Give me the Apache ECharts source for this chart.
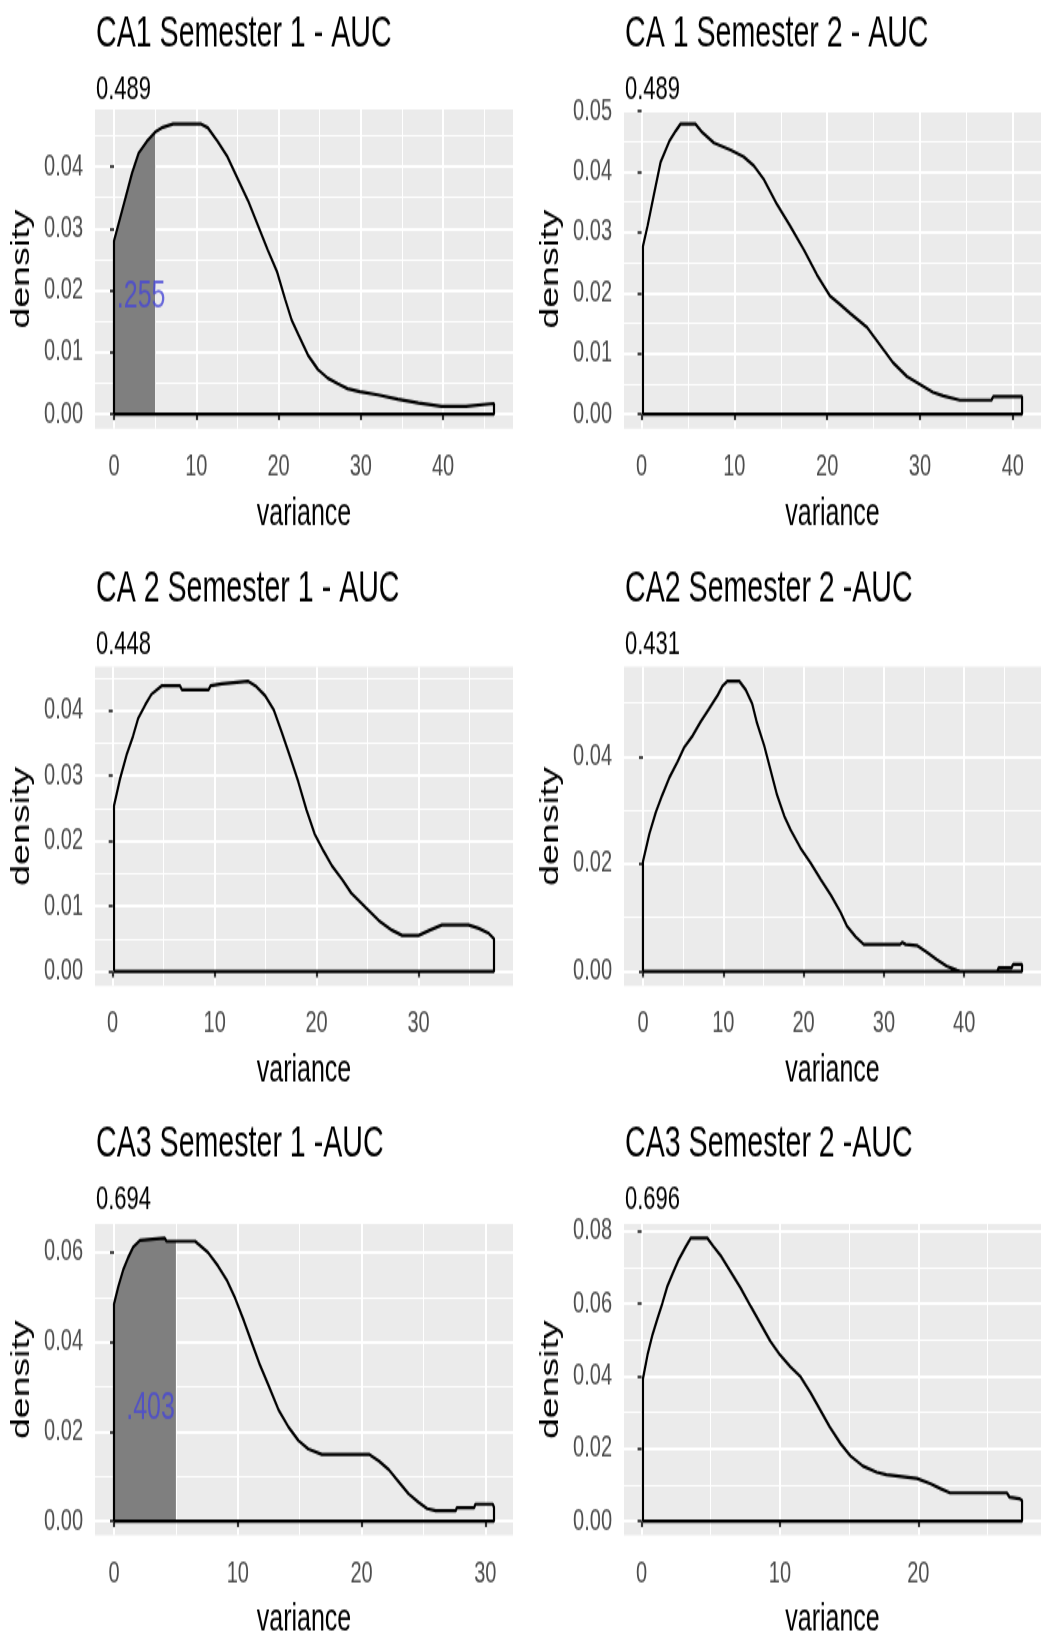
<!DOCTYPE html>
<html>
<head>
<meta charset="utf-8">
<script src="https://cdn.jsdelivr.net/npm/echarts@6/dist/echarts.min.js"></script>
<style>
html,body{margin:0;padding:0;background:#ffffff;overflow:hidden;}
#wrap{width:1041px;height:1641px;overflow:hidden;}
/* the reference picture is vertically stretched (non-square pixels); reproduce that aspect */
#chart{width:1041px;height:1094px;transform:scaleY(1.5);transform-origin:0 0;}
</style>
</head>
<body>
<div id="wrap"><div id="chart"></div></div>
<script>
// ---------- data ----------
const titles = ['CA1 Semester 1 - AUC', 'CA 1 Semester 2 - AUC', 'CA 2 Semester 1 - AUC', 'CA2 Semester 2 -AUC', 'CA3 Semester 1 -AUC', 'CA3 Semester 2 -AUC'];
const subtitles = ['0.489', '0.489', '0.448', '0.431', '0.694', '0.696'];
const xAxisTitle = 'variance';
const yAxisTitle = 'density';

const ca1s1X = [0, 1.3, 2.2, 3.0, 4.0, 5.0, 5.8, 7.2, 10.6, 11.4, 12.6, 13.8, 15.1, 16.3, 17.5, 18.7, 19.8, 20.8, 21.6, 22.4, 23.6, 24.8, 26.0, 27.2, 28.4, 29.9, 32.1, 34.5, 37.0, 39.8, 42.8, 43.0, 46.2];
const ca1s1Y = [0.028, 0.0345, 0.039, 0.0422, 0.0441, 0.0456, 0.0463, 0.0469, 0.0469, 0.0463, 0.0441, 0.0416, 0.0379, 0.0345, 0.0305, 0.0265, 0.0231, 0.0186, 0.0152, 0.0129, 0.0095, 0.0072, 0.0058, 0.0049, 0.0041, 0.0036, 0.0031, 0.0024, 0.0018, 0.00125, 0.00125, 0.0017, 0.0017];

const ca1s2X = [0.15, 0.65, 1.35, 2.05, 3.0, 3.7, 4.2, 5.8, 6.55, 7.8, 9.6, 11.0, 12.1, 13.2, 14.6, 16.0, 17.5, 18.9, 20.3, 21.4, 22.5, 24.3, 25.7, 27.1, 28.6, 30.0, 31.4, 32.5, 34.3, 37.7, 37.9, 41.0];
const ca1s2Y = [0.0277, 0.0311, 0.0364, 0.0416, 0.0451, 0.0468, 0.0479, 0.0479, 0.0465, 0.0448, 0.0436, 0.0425, 0.0410, 0.0387, 0.0346, 0.0311, 0.0271, 0.0230, 0.0195, 0.0181, 0.0166, 0.0143, 0.0114, 0.0085, 0.0062, 0.0049, 0.0036, 0.0030, 0.0023, 0.0023, 0.0029, 0.0029];

const ca2s1X = [0.13, 0.7, 1.4, 2.0, 2.5, 3.2, 3.8, 4.8, 6.6, 6.8, 9.4, 9.6, 10.7, 13.3, 14.0, 14.95, 15.8, 16.6, 17.4, 18.2, 19.0, 19.8, 20.7, 21.5, 22.5, 23.4, 24.8, 26.1, 27.4, 28.4, 30.0, 31.1, 32.3, 34.9, 35.9, 36.9, 37.4];
const ca2s1Y = [0.0254, 0.0294, 0.0334, 0.0361, 0.0388, 0.0409, 0.0425, 0.0438, 0.0438, 0.0432, 0.0432, 0.0438, 0.0441, 0.0445, 0.0438, 0.0423, 0.0401, 0.0366, 0.0329, 0.0291, 0.0248, 0.0211, 0.0184, 0.0162, 0.0141, 0.0120, 0.0098, 0.0078, 0.0063, 0.0055, 0.0055, 0.0063, 0.0071, 0.0071, 0.0066, 0.0058, 0.0050];

const ca2s2X = [0, 0.8, 1.6, 2.4, 3.3, 4.3, 5.1, 6.2, 7.2, 8.2, 9.3, 9.9, 10.5, 12.0, 12.8, 13.6, 14.2, 15.1, 15.9, 16.7, 17.6, 18.4, 19.6, 20.9, 22.1, 23.4, 24.6, 25.4, 26.5, 27.5, 32.0, 32.3, 32.7, 34.1, 35.4, 36.6, 37.8, 39.1, 39.5, 44.1, 44.3, 45.9, 46.1, 47.2];
const ca2s2Y = [0.0204, 0.0256, 0.0296, 0.0328, 0.0361, 0.0390, 0.0416, 0.0439, 0.0465, 0.0488, 0.0514, 0.0531, 0.0540, 0.0540, 0.0524, 0.0498, 0.0462, 0.0420, 0.0374, 0.0328, 0.0289, 0.0263, 0.0230, 0.0201, 0.0172, 0.0142, 0.0110, 0.0084, 0.0064, 0.0050, 0.0050, 0.0054, 0.0050, 0.0048, 0.0035, 0.0022, 0.0010, 0.0002, 0.0000, 0.0000, 0.0007, 0.0007, 0.0013, 0.0013];

const ca3s1X = [0, 0.35, 0.75, 1.15, 1.55, 2.1, 2.25, 4.1, 4.25, 5.0, 6.55, 6.8, 7.6, 8.4, 9.1, 9.8, 10.5, 11.1, 11.8, 12.5, 13.3, 14.1, 14.9, 15.7, 16.8, 20.6, 21.4, 22.2, 23.0, 23.8, 24.6, 25.3, 26.0, 27.6, 27.7, 29.1, 29.2, 30.6, 30.7];
const ca3s1Y = [0.0485, 0.0524, 0.0562, 0.0589, 0.0612, 0.0627, 0.0632, 0.0632, 0.0625, 0.0625, 0.0625, 0.0619, 0.0600, 0.0570, 0.0539, 0.0497, 0.0447, 0.0401, 0.0348, 0.0302, 0.0248, 0.0210, 0.0180, 0.0161, 0.0149, 0.0149, 0.0134, 0.0115, 0.0088, 0.0061, 0.0042, 0.0028, 0.0023, 0.0023, 0.0030, 0.0030, 0.0038, 0.0038, 0.0031];

const ca3s2X = [0.1, 0.43, 0.8, 1.15, 1.5, 1.87, 2.23, 2.7, 3.2, 3.55, 4.75, 5.2, 5.7, 6.4, 7.15, 7.9, 8.6, 9.3, 10.0, 10.75, 11.5, 12.2, 12.9, 13.6, 14.4, 15.1, 16.0, 17.0, 17.7, 19.9, 20.85, 21.6, 22.3, 26.4, 26.6, 27.3, 27.5];
const ca3s2Y = [0.0393, 0.0459, 0.0516, 0.0559, 0.0601, 0.0649, 0.0682, 0.0723, 0.0758, 0.0781, 0.0781, 0.0758, 0.0734, 0.0691, 0.0644, 0.0592, 0.0545, 0.0497, 0.0459, 0.0426, 0.0398, 0.0355, 0.0308, 0.0260, 0.0213, 0.0180, 0.0152, 0.0135, 0.0128, 0.0118, 0.0104, 0.0090, 0.0078, 0.0078, 0.0066, 0.0062, 0.0057];

// tick values
const xTicks40 = [0, 10, 20, 30, 40];
const xTicks30 = [0, 10, 20, 30];
const xTicks20 = [0, 10, 20];
const yTicks04 = [0, 0.01, 0.02, 0.03, 0.04];
const yTicks05 = [0, 0.01, 0.02, 0.03, 0.04, 0.05];
const yTicksB04 = [0, 0.02, 0.04];
const yTicks06 = [0, 0.02, 0.04, 0.06];
const yTicks08 = [0, 0.02, 0.04, 0.06, 0.08];

// shaded AUC regions (upper variance bound) and annotation labels
const shadeUpper = [5, null, null, null, 5, null];
const aucLabels = ['.255', null, null, null, '.403', null];
const aucLabelPos = [[3.3, 0.019], null, null, null, [2.95, 0.025], null];

// ---------- build ----------
const SANS = '"Liberation Sans", Arial, sans-serif';

const panels = [
  {x: ca1s1X, y: ca1s1Y, xt: xTicks40, yt: yTicks04, xi: 10, yi: 0.01},
  {x: ca1s2X, y: ca1s2Y, xt: xTicks40, yt: yTicks05, xi: 10, yi: 0.01},
  {x: ca2s1X, y: ca2s1Y, xt: xTicks30, yt: yTicks04, xi: 10, yi: 0.01},
  {x: ca2s2X, y: ca2s2Y, xt: xTicks40, yt: yTicksB04, xi: 10, yi: 0.02},
  {x: ca3s1X, y: ca3s1Y, xt: xTicks30, yt: yTicks06, xi: 10, yi: 0.02},
  {x: ca3s2X, y: ca3s2Y, xt: xTicks20, yt: yTicks08, xi: 10, yi: 0.02}
];

const option = {
  animation: false,
  backgroundColor: '#ffffff',
  title: [], grid: [], xAxis: [], yAxis: [], series: []
};

panels.forEach(function (p, i) {
  const col = i % 2, row = Math.floor(i / 2);
  const left = col ? 624 : 95;
  const top = 73 + row * 371.5;
  const W = 418, H = 212.7;

  const xmin = Math.min.apply(null, p.x), xmax = Math.max.apply(null, p.x);
  const ymax = Math.max.apply(null, p.y);
  const xpad = 0.05 * (xmax - xmin), ypad = 0.05 * ymax;

  option.title.push({
    text: titles[i], subtext: subtitles[i],
    left: left + 1, top: 9 + row * 370, itemGap: 11, padding: 0,
    textStyle: {fontFamily: SANS, fontSize: 28.6, fontWeight: 'normal', color: '#000000'},
    subtextStyle: {fontFamily: SANS, fontSize: 22, color: '#000000'}
  });

  option.grid.push({left: left, top: top, width: W, height: H, show: true,
    backgroundColor: '#EBEBEB', borderWidth: 0});

  option.xAxis.push({
    type: 'value', gridIndex: i,
    min: xmin - xpad, max: xmax + xpad,
    minInterval: p.xi, maxInterval: p.xi,
    axisLine: {show: false},
    axisTick: {show: true, length: 4, customValues: p.xt, lineStyle: {color: '#333333', width: 2.2}},
    axisLabel: {customValues: p.xt, margin: 15.5, color: '#4D4D4D', fontSize: 20, fontFamily: SANS},
    splitLine: {show: true, lineStyle: {color: '#ffffff', width: 2}},
    minorTick: {show: false, splitNumber: 2},
    minorSplitLine: {show: true, lineStyle: {color: '#ffffff', width: 1.1}},
    name: xAxisTitle, nameLocation: 'middle', nameGap: 44.5,
    nameTextStyle: {fontFamily: SANS, fontSize: 25, color: '#000000'}
  });

  option.yAxis.push({
    type: 'value', gridIndex: i,
    min: -ypad, max: ymax + ypad,
    minInterval: p.yi, maxInterval: p.yi,
    axisLine: {show: false},
    axisTick: {show: true, length: 4, customValues: p.yt, lineStyle: {color: '#333333', width: 1.8}},
    axisLabel: {customValues: p.yt, margin: 12, color: '#4D4D4D', fontSize: 20, fontFamily: SANS,
      formatter: function (v) { return v.toFixed(2); }},
    splitLine: {show: true, lineStyle: {color: '#ffffff', width: 1.8}},
    minorTick: {show: false, splitNumber: 2},
    minorSplitLine: {show: true, lineStyle: {color: '#ffffff', width: 1.1}},
    name: yAxisTitle, nameLocation: 'middle', nameGap: 60,
    nameTextStyle: {fontFamily: SANS, fontSize: 25, color: '#000000'}
  });

  const pts = p.x.map(function (v, k) { return [v, p.y[k]]; });

  if (shadeUpper[i] != null) {
    const shade = pts.filter(function (d) { return d[0] <= shadeUpper[i]; });
    option.series.push({
      type: 'line', xAxisIndex: i, yAxisIndex: i, data: shade,
      symbol: 'none', lineStyle: {width: 0, color: '#7F7F7F'},
      areaStyle: {color: '#7F7F7F', opacity: 1}, z: 2, silent: true
    });
  }

  const outline = [[p.x[0], 0]].concat(pts, [[p.x[p.x.length - 1], 0], [p.x[0], 0]]);
  option.series.push({
    type: 'line', xAxisIndex: i, yAxisIndex: i, data: outline,
    symbol: 'none', lineStyle: {color: '#000000', width: 2.2}, z: 3, silent: true
  });

  if (aucLabels[i] != null) {
    option.series.push({
      type: 'scatter', xAxisIndex: i, yAxisIndex: i, data: [aucLabelPos[i]],
      symbolSize: 0, z: 5, silent: true,
      label: {show: true, position: 'inside', formatter: aucLabels[i],
        color: '#4747D6', fontSize: 25, fontFamily: SANS}
    });
  }
});

const chart = echarts.init(document.getElementById('chart'), null, {renderer: 'canvas'});
chart.setOption(option);
</script>
</body>
</html>
